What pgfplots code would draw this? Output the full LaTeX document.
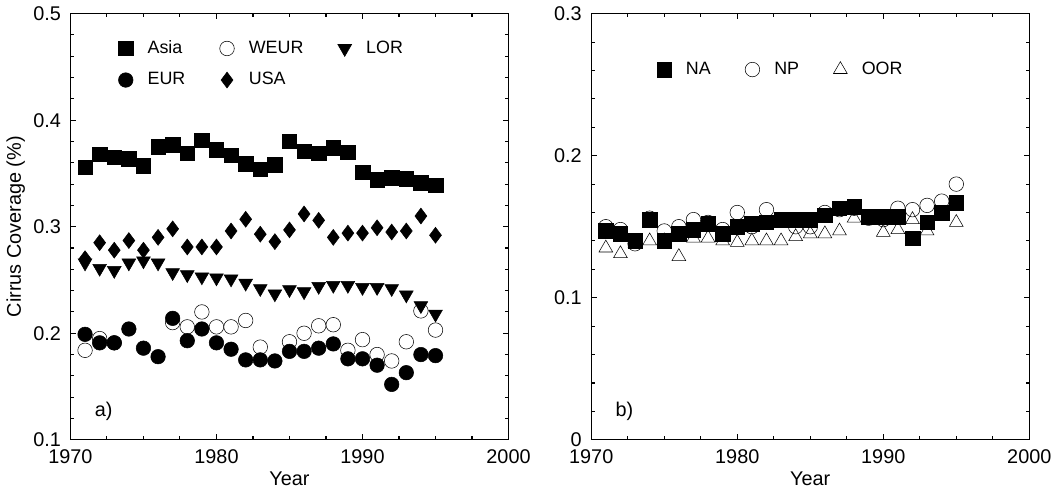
\documentclass[border=0pt]{standalone}
\usepackage{pgfplots}
\pgfplotsset{compat=1.18}
\usepackage{fontspec}
\setmainfont{Liberation Sans}
\begin{document}
\fontsize{15}{18}\selectfont
\begin{tikzpicture}
\pgfplotsset{every axis/.append style={scale only axis,width=331pt,height=322pt,
 xmin=1970,xmax=2000,xtick={1970,1980,1990,2000},minor x tick num=3,minor y tick num=4,
 tick align=inside,xticklabel style={/pgf/number format/1000 sep={},yshift=-2pt},
 yticklabel style={xshift=-2pt},
 /pgf/number format/assume math mode=true,xlabel={Year},
 xlabel style={yshift=4pt},
 tick style={black,thick},axis line style={thick},
 legend style={draw=none,fill=none,legend columns=3,column sep=9pt,/tikz/every even column/.append style={column sep=24pt},row sep=8pt,font=\fontsize{13.5}{16}\selectfont},
 legend cell align=left,
 every axis plot/.append style={only marks,black}}}
\begin{axis}[at={(0,0)},ymin=0.1,ymax=0.5,ytick={0.1,0.2,0.3,0.4,0.5},
 yticklabel style={/pgf/number format/.cd,fixed,precision=1},
 ylabel={Cirrus Coverage (\%)},ylabel style={yshift=-4pt},
 legend style={at={(0.1,0.95)},anchor=north west}]
\addplot[mark=square*,mark size=5.5pt] coordinates {(1971,.356)(1972,.368)(1973,.365)(1974,.364)(1975,.357)(1976,.375)(1977,.377)(1978,.369)(1979,.381)(1980,.372)(1981,.367)(1982,.359)(1983,.354)(1984,.358)(1985,.380)(1986,.371)(1987,.369)(1988,.374)(1989,.370)(1990,.351)(1991,.344)(1992,.346)(1993,.345)(1994,.341)(1995,.339)};
\addlegendentry{Asia}
\addplot[mark=o,mark size=5.5pt,mark options={fill=white}] coordinates {(1971,.184)(1972,.195)(1973,.191)(1977,.210)(1978,.206)(1979,.220)(1980,.206)(1981,.206)(1982,.212)(1983,.187)(1985,.192)(1986,.200)(1987,.207)(1988,.208)(1989,.184)(1990,.194)(1991,.180)(1992,.174)(1993,.192)(1994,.221)(1995,.203)};
\addlegendentry{WEUR}
\addplot[mark=triangle*,mark size=6pt,mark options={rotate=180}] coordinates {(1971,.266)(1972,.261)(1973,.259)(1974,.266)(1975,.268)(1976,.266)(1977,.257)(1978,.255)(1979,.253)(1980,.252)(1981,.251)(1982,.247)(1983,.242)(1984,.237)(1985,.241)(1986,.239)(1987,.244)(1988,.245)(1989,.245)(1990,.243)(1991,.243)(1992,.242)(1993,.236)(1994,.226)(1995,.218)};
\addlegendentry{LOR}
\addplot[mark=*,mark size=5.5pt] coordinates {(1971,.199)(1972,.191)(1973,.191)(1974,.204)(1975,.186)(1976,.178)(1977,.214)(1978,.193)(1979,.204)(1980,.191)(1981,.185)(1982,.175)(1983,.175)(1984,.174)(1985,.183)(1986,.183)(1987,.186)(1988,.190)(1989,.176)(1990,.176)(1991,.170)(1992,.152)(1993,.163)(1994,.180)(1995,.179)};
\addlegendentry{EUR}
\addplot[mark=diamond*,mark size=6pt] coordinates {(1971,.270)(1972,.285)(1973,.278)(1974,.287)(1975,.278)(1976,.290)(1977,.298)(1978,.281)(1979,.281)(1980,.281)(1981,.296)(1982,.307)(1983,.293)(1984,.286)(1985,.297)(1986,.312)(1987,.306)(1988,.290)(1989,.294)(1990,.294)(1991,.299)(1992,.295)(1993,.296)(1994,.310)(1995,.292)};
\addlegendentry{USA}
\node[anchor=south west] at (rel axis cs:0.04,0.03) {a)};
\end{axis}
\begin{axis}[at={(393.5pt,0)},ymin=0,ymax=0.3,ytick={0,0.1,0.2,0.3},
 yticklabel style={/pgf/number format/.cd,fixed,precision=1},
 legend style={at={(0.14,0.9)},anchor=north west}]
\addplot[mark=square*,mark size=5.5pt] coordinates {(1971,.147)(1972,.145)(1973,.140)(1974,.155)(1975,.140)(1976,.145)(1977,.148)(1978,.152)(1979,.145)(1980,.150)(1981,.152)(1982,.153)(1983,.155)(1984,.155)(1985,.155)(1986,.158)(1987,.163)(1988,.164)(1989,.157)(1990,.157)(1991,.157)(1992,.142)(1993,.153)(1994,.160)(1995,.167)};
\addlegendentry{NA}
\addplot[mark=o,mark size=5.5pt] coordinates {(1971,.150)(1972,.148)(1973,.138)(1974,.156)(1975,.147)(1976,.150)(1977,.155)(1978,.153)(1979,.148)(1980,.160)(1981,.150)(1982,.162)(1983,.155)(1984,.150)(1985,.150)(1986,.160)(1987,.162)(1988,.163)(1989,.156)(1990,.155)(1991,.163)(1992,.162)(1993,.165)(1994,.168)(1995,.180)};
\addlegendentry{NP}
\addplot[mark=triangle,mark size=6pt] coordinates {(1971,.135)(1972,.131)(1973,.138)(1974,.140)(1975,.140)(1976,.129)(1977,.142)(1978,.142)(1979,.140)(1980,.139)(1981,.140)(1982,.140)(1983,.140)(1984,.143)(1985,.145)(1986,.145)(1987,.147)(1988,.156)(1989,.155)(1990,.146)(1991,.148)(1992,.155)(1993,.147)(1994,.158)(1995,.153)};
\addlegendentry{OOR}
\node[anchor=south west] at (rel axis cs:0.04,0.03) {b)};
\end{axis}
\end{tikzpicture}
\end{document}
